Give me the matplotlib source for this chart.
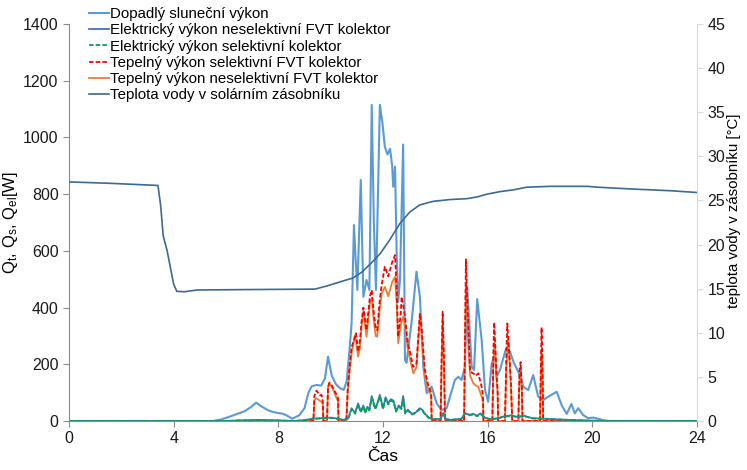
import numpy as np
import matplotlib.pyplot as plt

plt.rcParams['font.family'] = ['Liberation Sans', 'DejaVu Sans']
plt.rcParams['mathtext.fontset'] = 'custom'
plt.rcParams['mathtext.rm'] = 'Liberation Sans'
plt.rcParams['mathtext.it'] = 'Liberation Sans'

# dopadly slunecni vykon [h, W]
sun_t = [0, 5.5, 5.8, 6.1, 6.4, 6.7, 6.97, 7.15, 7.35, 7.6, 7.8, 7.98, 8.17, 8.35, 8.53,
         8.8, 9.0, 9.15, 9.27, 9.45, 9.64, 9.78, 9.9, 10.04, 10.2, 10.36, 10.5, 10.61,
         10.72, 10.8, 10.89, 10.96, 11.02, 11.15, 11.25, 11.37, 11.48, 11.57, 11.65,
         11.73, 11.88, 11.98, 12.07, 12.17, 12.27, 12.35, 12.39, 12.46, 12.52, 12.58,
         12.65, 12.77, 12.84, 12.9, 13.1, 13.28, 13.41, 13.54, 13.67, 13.86, 14.05,
         14.24, 14.43, 14.56, 14.75, 14.88, 15.0, 15.13, 15.22, 15.39, 15.48, 15.6,
         15.77, 15.9, 16.02, 16.15, 16.28, 16.34, 16.47, 16.7, 16.85, 17.0, 17.17,
         17.36, 17.55, 17.74, 17.93, 18.13, 18.32, 18.64, 18.83, 19.02, 19.2, 19.33,
         19.46, 19.65, 19.84, 20.04, 20.42, 20.65, 24]
sun_w = [0, 0, 5, 14, 24, 34, 50, 65, 52, 38, 32, 28, 26, 18, 8,
         20, 45, 100, 122, 127, 125, 150, 227, 160, 130, 115, 110, 140,
         250, 345, 691, 560, 462, 850, 438, 497, 462, 1115, 700,
         462, 1115, 1050, 967, 940, 960, 900, 826, 897, 600, 420,
         500, 975, 215, 205, 356, 527, 438, 191, 98, 121, 62,
         39, 45, 86, 145, 156, 145, 191, 470, 191, 180, 430,
         286, 109, 68, 200, 239, 156, 180, 255, 245, 205, 174,
         121, 109, 162, 86, 74, 86, 103, 55, 25, 60, 27,
         45, 21, 10, 12, 3, 0, 0]

# elektricky vykon neselektivni FVT kolektor
eln_t = [0, 6.0, 6.5, 7.2, 8.0, 8.6, 9.0, 9.3, 9.6, 10.0, 10.3, 10.5, 10.67, 10.8, 10.93,
         11.05, 11.15, 11.25, 11.32, 11.4, 11.48, 11.57, 11.7, 11.78, 11.88, 12.0, 12.1,
         12.2, 12.3, 12.4, 12.5, 12.6, 12.7, 12.77, 12.85, 12.95, 13.1, 13.25, 13.4,
         13.5, 13.6, 13.75, 13.9, 14.2, 14.3, 14.4, 14.6, 15.0, 15.13, 15.3, 15.45,
         15.6, 15.72, 15.9, 16.1, 16.4, 16.6, 16.9, 17.1, 17.4, 17.7, 18.2, 18.8, 19.4,
         20.0, 20.5, 24]
eln_w = [0, 0, 2, 4, 2, 0, 3, 8, 10, 12, 8, 4, 9, 45, 28,
         62, 33, 55, 30, 50, 40, 88, 45, 62, 92, 45, 84,
         62, 77, 72, 35, 55, 45, 88, 28, 40, 25, 30, 45,
         40, 26, 12, 6, 8, 28, 6, 4, 8, 28, 22, 25,
         18, 27, 12, 6, 10, 16, 20, 15, 18, 10, 8, 5, 3,
         1, 0, 0]

# elektricky vykon selektivni kolektor
els_t = eln_t
els_w = [0, 0, 2, 3, 2, 0, 3, 7, 9, 11, 7, 4, 8, 42, 26,
         58, 31, 51, 28, 47, 37, 82, 42, 58, 86, 42, 79,
         58, 72, 67, 33, 51, 42, 82, 26, 37, 23, 28, 42,
         37, 24, 11, 6, 7, 26, 6, 4, 7, 26, 20, 23,
         17, 25, 11, 6, 9, 15, 19, 14, 17, 9, 7, 5, 3,
         1, 0, 0]

# tepelny vykon neselektivni FVT kolektor
thn_t = [0, 9.34, 9.38, 9.46, 9.58, 9.65, 9.7, 9.72,
         9.86, 9.9, 9.95, 10.05, 10.1, 10.23, 10.28, 10.3,
         10.6, 10.65, 10.72, 10.8, 10.93, 11.05, 11.12, 11.18, 11.25, 11.37, 11.5,
         11.57, 11.65, 11.72, 11.78, 11.88, 11.95, 12.07, 12.2, 12.35, 12.46, 12.52,
         12.58, 12.68, 12.77, 12.84, 12.95, 13.03, 13.16, 13.28, 13.41, 13.47, 13.6,
         13.73, 13.84, 13.86,
         14.2, 14.24, 14.28, 14.33, 14.37,
         15.1, 15.14, 15.17, 15.22, 15.26, 15.33, 15.45, 15.55, 15.64, 15.77, 15.82, 15.84,
         16.18, 16.22, 16.27, 16.34, 16.38, 16.4,
         16.66, 16.72, 16.79, 16.85, 16.89, 16.94,
         17.17, 17.22, 17.26, 17.31, 17.33,
         18.0, 18.04, 18.06, 18.1, 18.12, 24]
thn_w = [0, 0, 75, 80, 72, 68, 60, 0,
         0, 120, 133, 120, 109, 80, 70, 0,
         0, 100, 170, 239, 303, 227, 260, 332, 385, 297, 415,
         432, 350, 300, 297, 400, 450, 473, 440, 490, 509, 420,
         274, 340, 368, 340, 250, 220, 168, 190, 368, 309, 160,
         110, 90, 0,
         0, 200, 356, 200, 0,
         0, 300, 485, 400, 262, 160, 133, 125, 121, 86, 70, 0,
         0, 200, 286, 145, 100, 0,
         0, 200, 297, 191, 121, 0,
         0, 160, 180, 100, 0,
         0, 180, 239, 150, 0, 0]

# tepelny vykon selektivni FVT kolektor
ths_t = [0, 9.34, 9.38, 9.46, 9.59, 9.65, 9.7, 9.72,
         9.86, 9.9, 9.95, 10.05, 10.1, 10.23, 10.28, 10.3,
         10.6, 10.65, 10.72, 10.8, 10.97, 11.05, 11.12, 11.18, 11.25, 11.37, 11.5,
         11.57, 11.65, 11.72, 11.78, 11.88, 11.95, 12.07, 12.2, 12.35, 12.46, 12.52,
         12.58, 12.68, 12.71, 12.77, 12.84, 12.95, 13.03, 13.15, 13.28, 13.41, 13.47,
         13.6, 13.73, 13.84, 13.86,
         14.2, 14.24, 14.28, 14.33, 14.37,
         15.1, 15.14, 15.17, 15.22, 15.26, 15.33, 15.45, 15.55, 15.64, 15.77, 15.82, 15.84,
         16.18, 16.22, 16.25, 16.34, 16.38, 16.4,
         16.66, 16.72, 16.75, 16.85, 16.89, 16.94,
         17.17, 17.22, 17.26, 17.31, 17.33,
         18.0, 18.04, 18.06, 18.1, 18.12, 24]
ths_w = [0, 0, 90, 107, 90, 92, 70, 0,
         0, 120, 135, 125, 115, 92, 80, 0,
         0, 110, 190, 260, 309, 245, 285, 350, 400, 320, 440,
         462, 380, 330, 320, 430, 480, 544, 510, 560, 585, 470,
         297, 380, 438, 409, 370, 270, 244, 191, 203, 380, 332,
         180, 125, 100, 0,
         0, 220, 385, 220, 0,
         0, 350, 570, 420, 332, 174, 168, 160, 168, 121, 90, 0,
         0, 250, 348, 160, 110, 0,
         0, 250, 344, 200, 130, 0,
         0, 180, 208, 110, 0,
         0, 230, 330, 180, 0, 0]

# teplota vody v solarnim zasobniku [h, degC]
tw_t = [0, 1.5, 3.4, 3.5, 3.6, 3.75, 4.0, 4.12, 4.4, 4.9, 7.0, 9.4, 9.85, 10.5, 10.85,
        11.2, 11.55, 11.9, 12.25, 12.65, 13.03, 13.41, 13.92, 14.56, 15.2, 15.6, 15.96,
        16.47, 16.98, 17.49, 18.38, 19.8, 20.2, 21.5, 23.0, 24]
tw_c = [27.1, 26.95, 26.7, 24.5, 21.0, 19.3, 15.5, 14.7, 14.65, 14.85, 14.9, 14.95, 15.3,
        15.9, 16.2, 16.9, 17.9, 19.0, 20.5, 22.4, 23.7, 24.5, 24.9, 25.1, 25.2, 25.4,
        25.7, 26.0, 26.2, 26.5, 26.6, 26.6, 26.5, 26.3, 26.1, 25.9]

fig = plt.figure(figsize=(7.47, 4.70), dpi=100)
ax = fig.add_axes([69/747, 1 - 421/470, 628/747, 397/470])
ax2 = ax.twinx()

h1, = ax.plot(sun_t, sun_w, color='#5B9BD5', lw=1.5, label='Dopadlý sluneční výkon')
h5, = ax.plot(thn_t, thn_w, color='#ED7D31', lw=1.3, label='Tepelný výkon neselektivní FVT kolektor')
h4, = ax.plot(ths_t, ths_w, color='#FF0000', lw=1.3, ls=(0, (2.5, 1.2)), label='Tepelný výkon selektivní FVT kolektor')
h2, = ax.plot(eln_t, eln_w, color='#4472C4', lw=1.3, label='Elektrický výkon neselektivní FVT kolektor')
h3, = ax.plot(els_t, els_w, color='#00A550', lw=1.3, ls=(0, (2.5, 1.2)), label='Elektrický výkon selektivní kolektor')
h6, = ax2.plot(tw_t, tw_c, color='#3B6A94', lw=1.2, label='Teplota vody v solárním zásobníku')

ax.set_xlim(0, 24)
ax.set_ylim(0, 1400)
ax2.set_ylim(0, 45)
ax.set_xticks(np.arange(0, 25, 4))
ax.set_yticks(np.arange(0, 1401, 200))
ax2.set_yticks(np.arange(0, 46, 5))

for s in ['top', 'right']:
    ax.spines[s].set_visible(False)
for s in ['top', 'left', 'bottom']:
    ax2.spines[s].set_visible(False)
ax.spines['left'].set_color('#8C8C8C')
ax.spines['bottom'].set_color('#8C8C8C')
ax2.spines['right'].set_color('#D9D9D9')
ax.tick_params(axis='both', colors='#8C8C8C', labelcolor='#1A1A1A', labelsize=11.5, length=4)
ax2.tick_params(axis='y', colors='#D9D9D9', labelcolor='#1A1A1A', labelsize=11.5, length=4)

ax.set_xlabel('Čas', fontsize=12.5, labelpad=2)
ax.set_ylabel('Q$_t$, Q$_s$, Q$_{el}$[W]', fontsize=12, labelpad=2)
ax2.set_ylabel('teplota vody v zásobníku [°C]', fontsize=10.8)
ax2.yaxis.set_label_coords(1.047, 0.53)

fig.legend(handles=[h1, h2, h3, h4, h5, h6], loc='upper left', bbox_to_anchor=(86/747, 0.991),
           frameon=False, fontsize=10.8, handlelength=1.3, handletextpad=0.1,
           labelspacing=0.15, borderpad=0.2, borderaxespad=0)

fig.savefig('out.png', dpi=100)
